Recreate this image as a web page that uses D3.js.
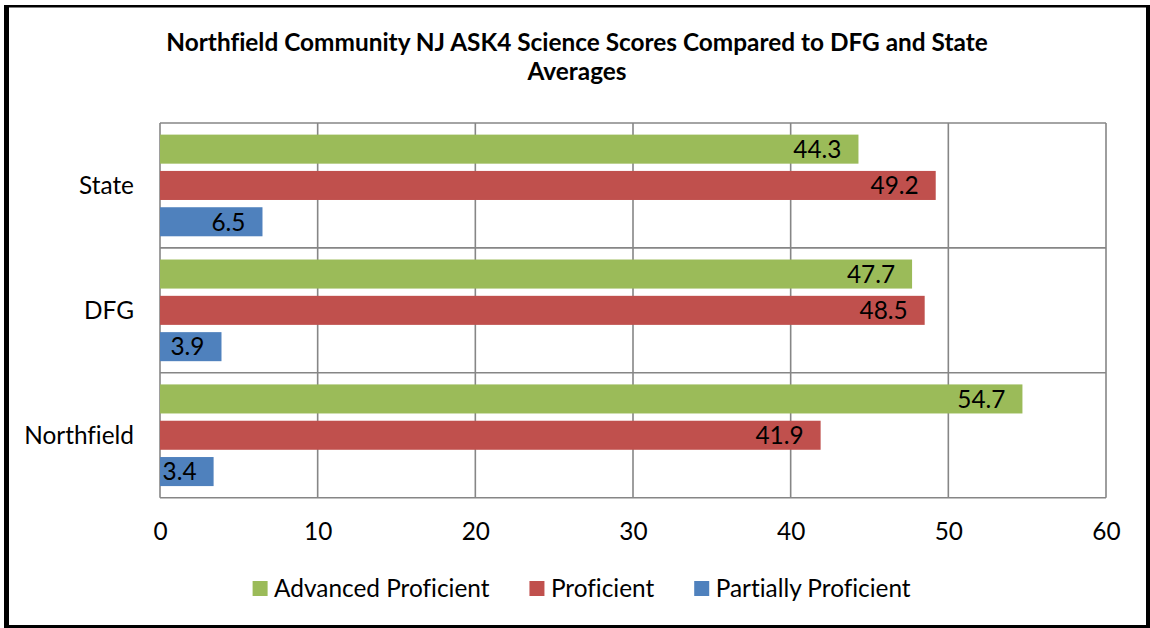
<!DOCTYPE html>
<html>
<head>
<meta charset="utf-8">
<script src="https://cdn.jsdelivr.net/npm/d3@7"></script>
<style>
  html, body { margin: 0; padding: 0; background: #fff; }
  svg { display: block; font-family: Lato, "Open Sans", sans-serif; font-variant-ligatures: none; }
</style>
</head>
<body>
<svg id="chart" width="1150" height="628"></svg>
<script>
// ---- data ----
const titleLines = ["Northfield Community NJ ASK4 Science Scores Compared to DFG and State", "Averages"];
const categories = ["State", "DFG", "Northfield"];
const seriesNames = ["Advanced Proficient", "Proficient", "Partially Proficient"];
const advanced = [44.3, 47.7, 54.7];
const proficient = [49.2, 48.5, 41.9];
const partial = [6.5, 3.9, 3.4];
const xTicks = [0, 10, 20, 30, 40, 50, 60];

const seriesValues = [advanced, proficient, partial];
const colors = ["#9BBB59", "#C0504D", "#4F81BD"];

const svg = d3.select("#chart");

// frame
svg.append("rect").attr("x", 4).attr("y", 5).attr("width", 1146).attr("height", 623).attr("fill", "#000");
svg.append("rect").attr("x", 9).attr("y", 7.5).attr("width", 1137).attr("height", 617.5).attr("fill", "#fff");

// font fitting helper
function fitSize(text, weight, target) {
  const t = svg.append("text").attr("font-size", 100).attr("font-weight", weight).text(text);
  const w = t.node().getComputedTextLength();
  t.remove();
  return 100 * target / w;
}
const fsTitle = fitSize(titleLines[0], 700, 822);
const fs = fitSize("Advanced Proficient", 400, 215.5);
const capMid = 0.36;

// scales
const x = d3.scaleLinear().domain([0, 60]).range([160, 1106]);
const y = d3.scaleBand().domain(categories).range([123, 497.7]);
const ys = d3.scaleBand().domain(seriesNames).range([0, y.bandwidth()]).paddingInner(0.2).paddingOuter(0.32);

// title
svg.append("g").selectAll("text").data(titleLines).join("text")
  .attr("x", 577).attr("y", (d, i) => 50.5 + i * 29.5)
  .attr("text-anchor", "middle").attr("font-weight", 700).attr("font-size", fsTitle)
  .attr("fill", "#000").text(d => d);

// gridlines
const grid = svg.append("g").attr("stroke", "#868686").attr("stroke-width", 1.6).attr("fill", "none");
grid.selectAll("line.v").data(xTicks).join("line").attr("class", "v")
  .attr("x1", d => x(d)).attr("x2", d => x(d)).attr("y1", y.range()[0]).attr("y2", y.range()[1]);
const hLines = categories.map(c => y(c)).concat([y.range()[1]]);
grid.selectAll("line.h").data(hLines).join("line").attr("class", "h")
  .attr("x1", x(0)).attr("x2", x(60)).attr("y1", d => d).attr("y2", d => d);

// bars
const rows = [];
categories.forEach((c, ci) => {
  seriesNames.forEach((s, si) => rows.push({ c, s, si, v: seriesValues[si][ci] }));
});
svg.append("g").selectAll("rect").data(rows).join("rect")
  .attr("x", x(0)).attr("y", d => y(d.c) + ys(d.s))
  .attr("width", d => x(d.v) - x(0)).attr("height", ys.bandwidth())
  .attr("fill", d => colors[d.si]);

// value labels
svg.append("g").selectAll("text").data(rows).join("text")
  .attr("x", d => x(d.v) - 17)
  .attr("y", d => y(d.c) + ys(d.s) + ys.bandwidth() / 2 + capMid * fs)
  .attr("text-anchor", "end").attr("font-size", fs).attr("fill", "#000")
  .text(d => d.v.toFixed(1));

// category labels
svg.append("g").selectAll("text").data(categories).join("text")
  .attr("x", 134).attr("y", d => y(d) + y.bandwidth() / 2 + capMid * fs)
  .attr("text-anchor", "end").attr("font-size", fs).attr("fill", "#000").text(d => d);

// x axis
const axis = d3.axisBottom(x).tickValues(xTicks).tickSize(0).tickPadding(0).tickFormat(d3.format("d"));
const ax = svg.append("g").call(axis);
ax.select(".domain").remove();
ax.selectAll("text").attr("y", 540).attr("dy", null).attr("font-size", fs)
  .attr("font-family", "Lato, 'Open Sans', sans-serif").attr("fill", "#000");

// legend
const legend = svg.append("g");
let lx = 252.6;
seriesNames.forEach((s, i) => {
  legend.append("rect").attr("x", lx).attr("y", 581).attr("width", 15).attr("height", 15).attr("fill", colors[i]);
  const t = legend.append("text").attr("x", lx + 21.5).attr("y", 588.5 + capMid * fs)
    .attr("font-size", fs).attr("fill", "#000").text(s);
  lx = lx + 21.5 + t.node().getComputedTextLength() + 40;
});
</script>
</body>
</html>
